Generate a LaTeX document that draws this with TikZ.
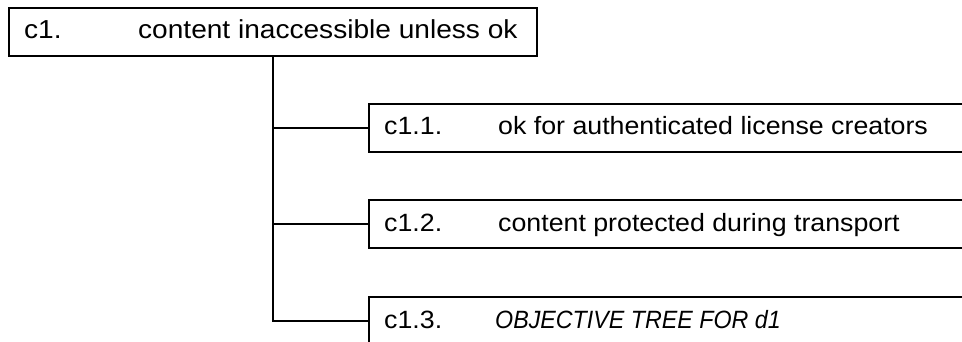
\documentclass[tikz,border=0pt]{standalone}
\usepackage{graphicx}
\usepackage{fontspec}
\setmainfont{Liberation Sans}
\newcommand{\widetxt}[1]{\scalebox{1.07}[1]{#1}}
\newcommand{\toptxt}[1]{\scalebox{1.08}[1]{#1}}
\newcommand{\narrowtxt}[1]{\scalebox{0.93}[1]{#1}}
\begin{document}
\begin{tikzpicture}[x=1pt,y=-1pt,
  box/.style={draw, line width=1.7pt, inner sep=0pt, anchor=north west, minimum height=48pt},
  lbl/.style={inner sep=0pt, anchor=base west, font=\fontsize{25}{29}\selectfont},
  toplbl/.style={inner sep=0pt, anchor=base west, font=\fontsize{26}{30}\selectfont},
  conn/.style={draw, line width=1.8pt}
]
\clip (0,0) rectangle (962,342);
\fill[white] (0,0) rectangle (962,342);

\node[box, minimum width=528pt] (top) at (8,7) {};
\node[toplbl] (topnum) at (24,39) {\toptxt{c1.}};
\node[toplbl] (toptxt) at (138,39) {\toptxt{content inaccessible unless ok}};

\node[box, minimum width=650pt] (b1) at (368,103) {};
\node[lbl] (b1num) at (384,135) {\widetxt{c1.1.}};
\node[lbl] (b1txt) at (498,135) {\widetxt{ok for authenticated license creators}};

\node[box, minimum width=650pt] (b2) at (368,199) {};
\node[lbl] (b2num) at (384,232) {\widetxt{c1.2.}};
\node[lbl] (b2txt) at (498,232) {\widetxt{content protected during transport}};

\node[box, minimum width=650pt] (b3) at (368,296) {};
\node[lbl] (b3num) at (384,328) {\widetxt{c1.3.}};
\node[lbl] (b3txt) at (495,328) {\narrowtxt{\itshape OBJECTIVE TREE FOR d1}};

\draw[conn] (top.south) -- (top.south |- b3.west) -- (b3.west);
\draw[conn] (top.south |- b1.west) -- (b1.west);
\draw[conn] (top.south |- b2.west) -- (b2.west);
\end{tikzpicture}
\end{document}
